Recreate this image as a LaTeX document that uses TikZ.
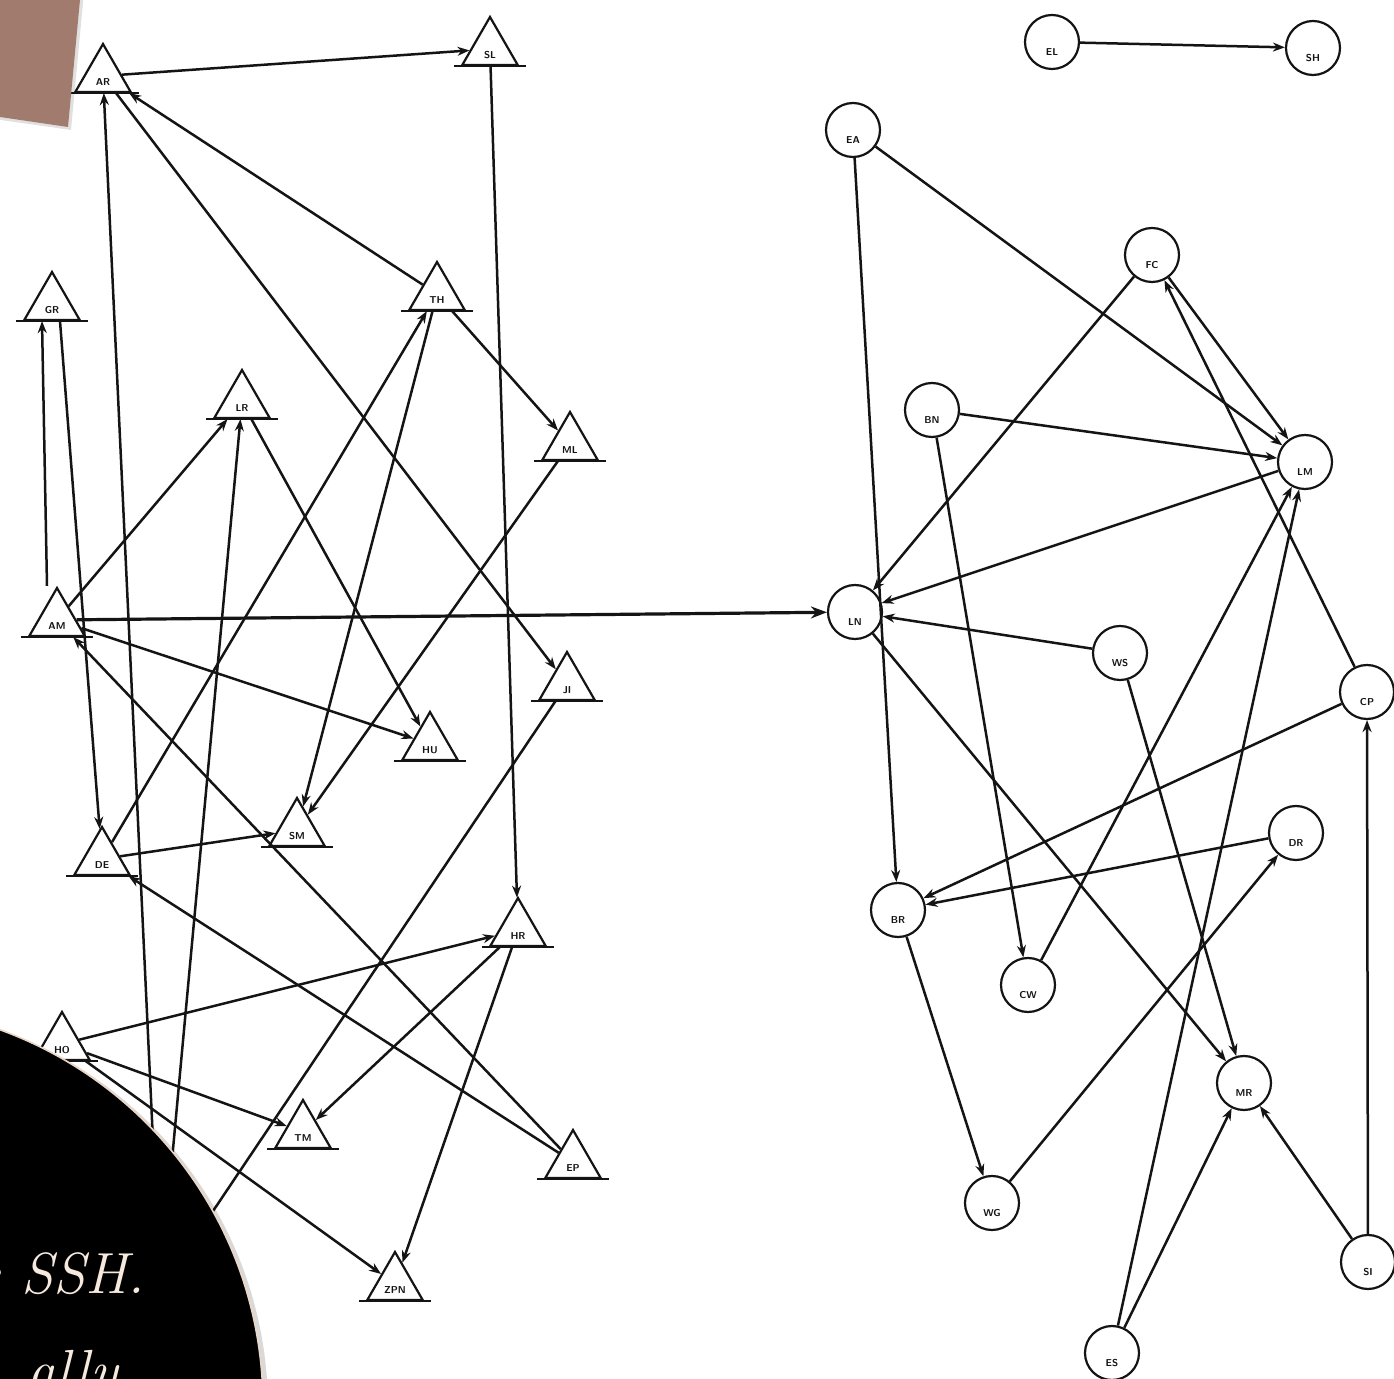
\documentclass[tikz,border=0pt]{standalone}
\usetikzlibrary{shapes.geometric,arrows.meta,calc}
\definecolor{brownbox}{RGB}{162,123,111}
\definecolor{cream}{RGB}{246,234,222}
\definecolor{peach}{RGB}{236,214,198}
\definecolor{ink}{RGB}{20,20,20}
\begin{document}
\begin{tikzpicture}[x=0.5pt,y=-0.5pt,
  edge/.style={line width=1.25pt, draw=ink, -{Stealth[length=6pt,width=4.5pt]}},
  plain/.style={line width=1.25pt, draw=ink},
  big/.style={line width=1.6pt, draw=ink, -{Stealth[length=8pt,width=6pt]}},
  tri/.style={regular polygon, regular polygon sides=3, draw=ink, line width=1.1pt, minimum size=32pt, inner sep=0pt},
  circ/.style={circle, draw=ink, line width=1.1pt, minimum size=27pt, inner sep=0pt},
  lab/.style={font=\fontsize{5}{5}\selectfont\sffamily\bfseries, inner sep=0pt, text=ink},
]
% background / bounding box
\fill[white] (0,0) rectangle (1394,1379);
\useasboundingbox (0,0) rectangle (1394,1379);

% ---- triangles (left group)
\node[tri, label={[lab,yshift=-3pt]center:AR}] (t1) at (103,76) {};
\node[tri, label={[lab,yshift=-3pt]center:SL}] (t2) at (490,49) {};
\node[tri, label={[lab,yshift=-3pt]center:GR}] (t3) at (52,304) {};
\node[tri, label={[lab,yshift=-3pt]center:TH}] (t4) at (437,294) {};
\node[tri, label={[lab,yshift=-3pt]center:LR}] (t5) at (242,402) {};
\node[tri, label={[lab,yshift=-3pt]center:ML}] (t6) at (570,444) {};
\node[tri, label={[lab,yshift=-3pt]center:AM}] (t7) at (57,620) {};
\node[tri, label={[lab,yshift=-3pt]center:JI}] (t8) at (567,684) {};
\node[tri, label={[lab,yshift=-3pt]center:HU}] (t9) at (430,744) {};
\node[tri, label={[lab,yshift=-3pt]center:DE}] (t10) at (102,859) {};
\node[tri, label={[lab,yshift=-3pt]center:SM}] (t11) at (297,830) {};
\node[tri, label={[lab,yshift=-3pt]center:HR}] (t12) at (518,930) {};
\node[tri, label={[lab,yshift=-3pt]center:HO}] (t13) at (62,1044) {};
\node[tri, label={[lab,yshift=-3pt]center:TM}] (t14) at (303,1132) {};
\node[tri, label={[lab,yshift=-3pt]center:EP}] (t15) at (573,1162) {};
\node[tri, label={[lab,yshift=-3pt]center:ZPN}] (t16) at (395,1284) {};
\coordinate (hid) at (160,1290);
\foreach \n in {t1,t2,t3,t4,t5,t6,t7,t8,t9,t10,t11,t12,t13,t14,t15,t16}
  \draw[line width=1.2pt, draw=ink] ($(\n.corner 2)+(-3pt,0)$) -- ($(\n.corner 3)+(3pt,0)$);

% ---- circles (right group)
\node[circ, label={[lab,yshift=-5pt]center:EL}] (c1) at (1052,42) {};
\node[circ, label={[lab,yshift=-5pt]center:SH}] (c2) at (1313,48) {};
\node[circ, label={[lab,yshift=-5pt]center:EA}] (c3) at (853,130) {};
\node[circ, label={[lab,yshift=-5pt]center:FC}] (c4) at (1152,255) {};
\node[circ, label={[lab,yshift=-5pt]center:BN}] (c5) at (932,410) {};
\node[circ, label={[lab,yshift=-5pt]center:LM}] (c6) at (1305,462) {};
\node[circ, label={[lab,yshift=-5pt]center:LN}] (c7) at (855,612) {};
\node[circ, label={[lab,yshift=-5pt]center:WS}] (c8) at (1120,653) {};
\node[circ, label={[lab,yshift=-5pt]center:CP}] (c9) at (1367,692) {};
\node[circ, label={[lab,yshift=-5pt]center:DR}] (c10) at (1296,833) {};
\node[circ, label={[lab,yshift=-5pt]center:BR}] (c11) at (898,910) {};
\node[circ, label={[lab,yshift=-5pt]center:CW}] (c12) at (1028,985) {};
\node[circ, label={[lab,yshift=-5pt]center:MR}] (c13) at (1244,1083) {};
\node[circ, label={[lab,yshift=-5pt]center:WG}] (c14) at (992,1203) {};
\node[circ, label={[lab,yshift=-5pt]center:SI}] (c15) at (1368,1262) {};
\node[circ, label={[lab,yshift=-5pt]center:ES}] (c16) at (1112,1353) {};

% ---- left connectors
\draw[edge] (t1) -- (t2);
\draw[edge] (t2) -- (t12);
\draw[edge] (t4) -- (t1);
\draw[edge] (t1) -- (t8);
\draw[edge] (hid) -- (t1);
\draw[edge] (hid) -- (t5);
\draw[plain] (t8) -- (hid);
\draw[edge] ([xshift=-5pt]t7.corner 1) -- ([xshift=-5pt]t3.side 2);
\draw[edge] ([xshift=4pt]t3.side 2) -- (t10);
\draw[edge] (t7) -- (t5);
\draw[edge] (t5) -- (t9);
\draw[edge] (t7) -- (t9);
\draw[edge] (t15) -- (t7);
\draw[edge] (t10) -- (t11);
\draw[edge] (t10) -- (t4);
\draw[edge] (t4) -- (t11);
\draw[edge] (t4) -- (t6);
\draw[edge] (t6) -- (t11);
\draw[edge] (t15) -- (t10);
\draw[edge] (t13) -- (t12);
\draw[edge] (t13) -- (t14);
\draw[edge] (t12) -- (t14);
\draw[edge] (t12) -- (t16);
\draw[edge] (t13) -- (t16);
\draw[big] (t7) -- (c7);

% ---- right connectors
\draw[edge] (c1) -- (c2);
\draw[edge] (c3) -- (c11);
\draw[edge] (c3) -- (c6);
\draw[edge] (c4) -- (c7);
\draw[edge] (c9) -- (c4);
\draw[edge] (c4) -- (c6);
\draw[edge] (c5) -- (c6);
\draw[edge] (c6) -- (c7);
\draw[edge] (c5) -- (c12);
\draw[edge] (c12) -- (c6);
\draw[edge] (c16) -- (c6);
\draw[edge] (c8) -- (c7);
\draw[edge] (c7) -- (c13);
\draw[edge] (c8) -- (c13);
\draw[edge] (c9) -- (c11);
\draw[edge] (c10) -- (c11);
\draw[edge] (c14) -- (c10);
\draw[edge] (c11) -- (c14);
\draw[edge] (c16) -- (c13);
\draw[edge] (c15) -- (c13);
\draw[edge] (c15) -- (c9);

% ---- overlays
\fill[black, opacity=0.12] (-30,-27) -- (85.8,-27) -- (71,130) -- (-30,115.6) -- cycle;
\fill[brownbox] (-30,-30) -- (82.8,-30) -- (68,127) -- (-30,112.6) -- cycle;

\fill[black, opacity=0.15] (-133,1408) circle[radius=200.5pt];
\fill[black] (-136,1405) circle[radius=199.5pt];
\draw[peach, line width=0.8pt] (-136,1405) circle[radius=199.5pt];
\node[anchor=base east, text=cream, inner sep=0pt, font=\fontsize{29}{29}\selectfont\itshape] (tx1) at (145,1293) {is SSH.};
\node[anchor=base east, text=cream, inner sep=0pt, font=\fontsize{29}{29}\selectfont\itshape] (tx2) at (118,1390) {ally};
\end{tikzpicture}
\end{document}
